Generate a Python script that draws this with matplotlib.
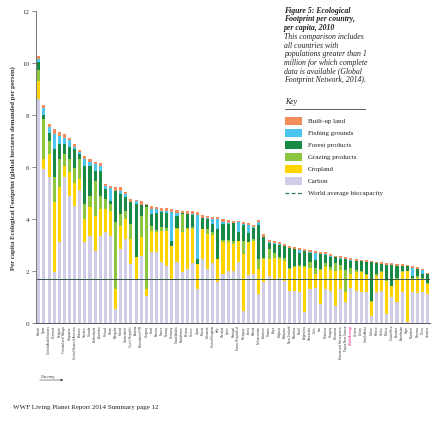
import numpy as np
import matplotlib.pyplot as plt
from matplotlib.patches import Rectangle
from matplotlib.lines import Line2D

# Ecological Footprint per capita, 2010 (gha per person)
countries = [
    "Kuwait", "Qatar", "United Arab Emirates", "Denmark", "Belgium",
    "Trinidad and Tobago", "Singapore", "United States of America", "Bahrain", "Sweden",
    "Canada", "Netherlands", "Australia", "Finland", "Oman",
    "Mongolia", "Ireland", "Switzerland", "Czech Republic", "Austria",
    "Macedonia FYR", "Uruguay", "Israel", "Estonia", "France",
    "Norway", "Germany", "Saudi Arabia", "Kazakhstan", "Belarus",
    "Greece", "Japan", "Russia", "Lithuania", "United Kingdom",
    "Italy", "Slovakia", "Spain", "Portugal", "Korea, Republic of",
    "Paraguay", "Latvia", "Poland", "Turkmenistan", "Lebanon",
    "Croatia", "Libya", "Bulgaria", "Malaysia", "New Zealand",
    "Mauritius", "Brazil", "Argentina", "Venezuela", "Chile",
    "Iran", "Romania", "Hungary", "Botswana", "Bosnia and Herzegovina",
    "Papua New Guinea", "World Average", "Ukraine", "Turkey", "South Africa",
    "Gabon", "Mexico", "Serbia", "Bolivia", "Costa Rica",
    "Ecuador", "Azerbaijan", "Niger", "Thailand", "Panama",
    "China", "Jamaica",
]

carbon = [8.62, 5.92, 5.60, 1.95, 3.10, 5.60, 4.90, 4.50, 5.10, 3.10,
          3.36, 2.78, 3.36, 3.49, 3.36, 0.54, 2.85, 3.23, 2.27, 1.69,
          2.59, 1.04, 2.72, 2.72, 2.33, 2.20, 1.69, 2.33, 1.95, 2.08,
          2.30, 1.31, 2.46, 2.08, 2.30, 1.56, 1.90, 2.00, 2.00, 2.33,
          0.46, 1.85, 1.90, 1.10, 1.56, 1.82, 1.70, 1.75, 1.60, 1.24,
          1.25, 1.20, 0.42, 1.30, 1.35, 0.73, 1.30, 1.25, 0.65, 1.30,
          0.80, 1.34, 1.25, 1.20, 1.20, 0.27, 1.20, 1.25, 0.35, 1.00,
          0.80, 1.20, 0.05, 1.20, 1.15, 1.20, 1.10]
cropland = [0.70, 0.40, 0.90, 2.70, 2.12, 0.45, 0.90, 0.90, 0.45, 0.90,
            1.09, 1.35, 1.02, 0.89, 0.96, 0.76, 0.89, 0.77, 0.96, 0.84,
            0.70, 0.27, 0.83, 0.77, 1.22, 1.35, 1.28, 1.29, 1.54, 1.54,
            1.30, 0.96, 1.16, 1.35, 1.10, 0.90, 1.20, 1.10, 1.05, 0.84,
            2.20, 1.25, 1.25, 0.98, 0.90, 0.64, 0.80, 0.70, 0.80, 0.84,
            0.90, 0.95, 1.72, 0.80, 0.55, 1.30, 0.85, 0.80, 1.35, 0.75,
            0.40, 0.55, 0.70, 0.75, 0.65, 0.53, 0.60, 0.70, 1.28, 0.44,
            0.85, 0.75, 1.95, 0.50, 0.60, 0.50, 0.40]
grazing = [0.42, 1.53, 0.50, 0.96, 1.09, 0.45, 0.52, 0.58, 0.77, 0.58,
           0.45, 1.34, 0.52, 0.39, 0.26, 2.57, 0.45, 0.32, 0.58, 0.00,
           0.84, 3.14, 0.20, 0.10, 0.13, 0.10, 0.00, 0.05, 0.70, 0.05,
           0.10, 0.00, 0.00, 0.20, 0.10, 0.00, 0.10, 0.10, 0.10, 0.00,
           0.50, 0.00, 0.10, 0.40, 0.05, 0.38, 0.20, 0.10, 0.10, 0.05,
           0.05, 0.10, 0.05, 0.25, 0.20, 0.05, 0.15, 0.10, 0.30, 0.20,
           0.85, 0.23, 0.10, 0.05, 0.05, 0.05, 0.10, 0.05, 0.05, 0.00,
           0.10, 0.05, 0.00, 0.05, 0.05, 0.05, 0.05]
forest = [0.29, 0.15, 0.32, 1.07, 0.57, 0.38, 0.45, 0.70, 0.19, 1.47,
          1.15, 0.39, 0.96, 0.38, 0.13, 1.22, 0.77, 0.51, 0.83, 2.05,
          0.42, 0.08, 0.45, 0.64, 0.58, 0.57, 0.20, 0.46, 0.03, 0.52,
          0.45, 0.19, 0.43, 0.38, 0.30, 1.15, 0.60, 0.60, 0.70, 0.32,
          0.60, 0.38, 0.40, 1.30, 0.80, 0.25, 0.35, 0.45, 0.45, 0.76,
          0.66, 0.45, 0.58, 0.35, 0.32, 0.58, 0.32, 0.40, 0.22, 0.20,
          0.40, 0.27, 0.35, 0.38, 0.45, 1.49, 0.40, 0.27, 0.57, 0.79,
          0.45, 0.20, 0.18, 0.05, 0.28, 0.13, 0.32]
fishing = [0.12, 0.28, 0.20, 0.59, 0.32, 0.25, 0.26, 0.10, 0.05, 0.26,
           0.16, 0.26, 0.19, 0.13, 0.47, 0.00, 0.13, 0.13, 0.00, 0.10,
           0.00, 0.00, 0.20, 0.15, 0.06, 0.10, 1.11, 0.12, 0.00, 0.00,
           0.04, 1.70, 0.00, 0.04, 0.20, 0.38, 0.10, 0.06, 0.00, 0.38,
           0.06, 0.30, 0.05, 0.10, 0.00, 0.04, 0.04, 0.02, 0.02, 0.00,
           0.00, 0.09, 0.00, 0.04, 0.28, 0.00, 0.02, 0.01, 0.00, 0.04,
           0.00, 0.04, 0.00, 0.00, 0.01, 0.00, 0.00, 0.00, 0.00, 0.00,
           0.01, 0.01, 0.00, 0.32, 0.00, 0.15, 0.00]
built_up = [0.11, 0.10, 0.13, 0.19, 0.16, 0.14, 0.07, 0.10, 0.10, 0.13,
            0.10, 0.09, 0.10, 0.07, 0.08, 0.13, 0.13, 0.09, 0.13, 0.05,
            0.13, 0.05, 0.11, 0.07, 0.10, 0.09, 0.10, 0.10, 0.10, 0.10,
            0.10, 0.10, 0.10, 0.08, 0.09, 0.07, 0.10, 0.10, 0.09, 0.07,
            0.08, 0.07, 0.07, 0.10, 0.11, 0.08, 0.08, 0.08, 0.08, 0.08,
            0.08, 0.08, 0.08, 0.08, 0.08, 0.08, 0.08, 0.08, 0.07, 0.07,
            0.08, 0.06, 0.06, 0.06, 0.06, 0.06, 0.06, 0.06, 0.06, 0.06,
            0.06, 0.06, 0.06, 0.06, 0.06, 0.05, 0.05]
world_biocapacity = 1.7

layers = [
    ("Carbon", carbon, "#d2cde6"),
    ("Cropland", cropland, "#ffd400"),
    ("Grazing products", grazing, "#8cc641"),
    ("Forest products", forest, "#178a45"),
    ("Fishing grounds", fishing, "#4cc5ef"),
    ("Built-up land", built_up, "#f48d5c"),
]

serif = "Liberation Serif"
W, H = 433, 435
fig = plt.figure(figsize=(W / 100, H / 100), dpi=100)
ax = fig.add_axes([36 / W, 111 / H, 394 / W, 312 / H])

x = np.arange(len(countries))
bottom = np.zeros(len(countries))
for name, vals, col in layers:
    vals = np.array(vals)
    ax.bar(x, vals, 0.6, bottom=bottom, color=col, linewidth=0)
    bottom += vals

ax.axhline(world_biocapacity, color="#3a5548", lw=0.7)

ax.set_xlim(-0.55, len(countries) - 0.55)
ax.set_ylim(0, 12)
for s in ["top", "right"]:
    ax.spines[s].set_visible(False)
ax.spines["left"].set_color("#777777")
ax.spines["left"].set_linewidth(0.7)
ax.spines["bottom"].set_color("#555555")
ax.spines["bottom"].set_linewidth(0.7)

ax.set_yticks(range(0, 13, 2))
ax.tick_params(axis="y", length=3, width=0.6, color="#777777", labelsize=5, pad=2,
               labelcolor="#333333")
for t in ax.get_yticklabels():
    t.set_fontfamily(serif)
ax.set_xticks(x, countries, rotation=90, fontsize=2.1, fontfamily="Liberation Sans")
ax.tick_params(axis="x", length=0, pad=1.5, labelcolor="#333333")
for t in ax.get_xticklabels():
    if t.get_text() == "World Average":
        t.set_color("#e6007e")

ax.set_ylabel("Per capita Ecological Footprint (global hectares demanded per person)",
              fontsize=4.9, fontfamily=serif, fontweight="bold", color="#333333")
ax.yaxis.set_label_coords(-0.052, 0.5)

# x-axis hint
ax.annotate("", xy=(66 / W, 1 - 381 / H), xytext=(37 / W, 1 - 381 / H),
            xycoords="figure fraction",
            arrowprops=dict(arrowstyle="-|>", lw=0.4, color="#333333",
                            mutation_scale=3, linestyle=(0, (1, 0.6))))
fig.text(48 / W, 1 - 377 / H, "Country", fontsize=3, color="#333333",
         ha="center", va="center", fontfamily="Liberation Sans")

# caption block
caption_bold = ["Figure 5: Ecological", "Footprint per country,", "per capita, 2010"]
caption_rest = ["This comparison includes", "all countries with",
                "populations greater than 1", "million for which complete",
                "data is available (Global", "Footprint Network, 2014)."]
for i, line in enumerate(caption_bold + caption_rest):
    fig.text(284 / W, 1 - (10.7 + 8.7 * i) / H, line, fontsize=5.6,
             fontfamily=serif, style="italic",
             fontweight="bold" if i < 3 else "normal",
             color="#222222", va="center", ha="left")

# key
fig.text(285 / W, 1 - 102 / H, "Key", fontsize=5.6, fontfamily=serif,
         style="italic", color="#222222", va="center")
fig.add_artist(Line2D([285 / W, 365 / W], [1 - 110 / H, 1 - 110 / H],
                      color="#444444", lw=0.6))
for i, (name, vals, col) in enumerate(layers[::-1]):
    yc = 121.7 + 12 * i
    fig.add_artist(Rectangle((285 / W, 1 - (yc + 4) / H), 17 / W, 8 / H,
                             color=col, lw=0))
    fig.text(308 / W, 1 - yc / H, name, fontsize=5, fontfamily=serif,
             color="#222222", va="center")
yc = 121.7 + 12 * 6
fig.add_artist(Line2D([285 / W, 303 / W], [1 - yc / H, 1 - yc / H],
                      color="#2f7a5c", lw=0.9, linestyle=(0, (3, 2))))
fig.text(308 / W, 1 - yc / H, "World average biocapacity", fontsize=5,
         fontfamily=serif, color="#222222", va="center")

fig.text(13 / W, 1 - 408 / H, "WWF Living Planet Report 2014 Summary page 12",
         fontsize=5, fontfamily=serif, color="#222222", va="center")

fig.savefig("out.png", dpi=100)
